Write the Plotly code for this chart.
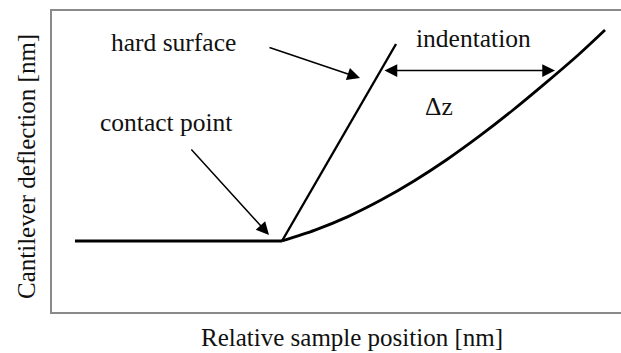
import plotly.graph_objects as go

# ---- data (arbitrary units: relative sample position vs cantilever deflection) ----
baseline_x = [4.04, 40.42]
baseline_y = [23.59, 23.59]

hard_x = [40.42, 60.46]
hard_y = [23.59, 89.04]

soft_x = [40.42, 46.22, 52.02, 57.82, 63.62, 69.42, 75.22, 81.02, 86.82, 92.62, 97.19]
soft_y = [23.59, 27.21, 31.69, 37.18, 43.52, 50.66, 58.57, 67.11, 76.21, 85.65, 93.69]

labels = ["hard surface", "contact point", "indentation", "\u0394z"]
label_x = [21.44, 20.04, 73.99, 68.01]
label_y = [89.7, 63.1, 90.7, 68.4]

# arrows: (tail_x, tail_y, tip_x, tip_y)
arrow_hard = (37.96, 88.04, 54.13, 77.74)
arrow_contact = (24.25, 54.49, 38.14, 25.58)
arrow_indent = (58.17, 80.2, 88.40, 80.2)

FONT = "Liberation Serif, Times New Roman, serif"
TXT = "#111111"

fig = go.Figure()
line_style = dict(color="#000000", width=2.8)
fig.add_trace(go.Scatter(x=baseline_x, y=baseline_y, mode="lines", line=line_style, hoverinfo="skip"))
fig.add_trace(go.Scatter(x=hard_x, y=hard_y, mode="lines", line=dict(color="#000000", width=2.4), hoverinfo="skip"))
fig.add_trace(go.Scatter(x=soft_x, y=soft_y, mode="lines",
                         line=dict(color="#000000", width=2.8, shape="spline", smoothing=0.8),
                         hoverinfo="skip"))

annotations = []
for t, x, y in zip(labels, label_x, label_y):
    annotations.append(dict(x=x, y=y, xref="x", yref="y", text=t, showarrow=False,
                            font=dict(family=FONT, size=25.5, color=TXT),
                            xanchor="center", yanchor="middle"))

for (tx, ty, hx, hy) in [arrow_hard, arrow_contact]:
    annotations.append(dict(x=hx, y=hy, ax=tx, ay=ty, xref="x", yref="y", axref="x", ayref="y",
                            text="", showarrow=True, arrowhead=2, arrowsize=1.7, arrowwidth=1.5,
                            arrowcolor="#000000", standoff=0, startstandoff=0))

tx, ty, hx, hy = arrow_indent
annotations.append(dict(x=hx, y=hy, ax=tx, ay=ty, xref="x", yref="y", axref="x", ayref="y",
                        text="", showarrow=True, arrowhead=2, startarrowhead=2, arrowside="end+start",
                        arrowsize=1.7, startarrowsize=1.7, arrowwidth=1.5,
                        arrowcolor="#000000", standoff=0, startstandoff=0))

# axis titles
annotations.append(dict(x=0.527, y=-0.085, xref="paper", yref="paper",
                        text="Relative sample position [nm]", showarrow=False,
                        font=dict(family=FONT, size=25, color=TXT),
                        xanchor="center", yanchor="middle"))
annotations.append(dict(x=-0.0457, y=0.485, xref="paper", yref="paper",
                        text="Cantilever deflection [nm]", showarrow=False, textangle=-90,
                        font=dict(family=FONT, size=25, color=TXT),
                        xanchor="center", yanchor="middle"))

axis_common = dict(showgrid=False, zeroline=False, showticklabels=False, ticks="",
                   showline=True, linecolor="#8a8a8a", linewidth=2, range=[0, 100], fixedrange=True)

fig.update_layout(
    width=621, height=353,
    margin=dict(l=52, r=0, t=11, b=41),
    paper_bgcolor="#ffffff", plot_bgcolor="#ffffff",
    showlegend=False,
    xaxis=dict(**axis_common, mirror=True),
    yaxis=dict(**axis_common, mirror=False),
    annotations=annotations,
)

fig.write_html("out.html", config={"displayModeBar": False},
               post_script="document.body.style.margin='0px';document.body.style.overflow='hidden';")
